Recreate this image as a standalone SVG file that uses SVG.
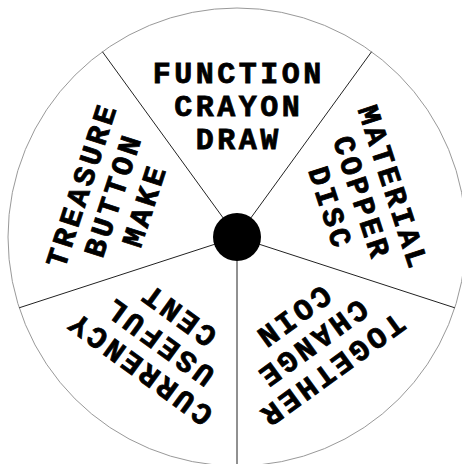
<svg xmlns="http://www.w3.org/2000/svg" width="462" height="464" viewBox="0 0 462 464">
<style>
.lbl{font-family:"Liberation Mono","Courier New",monospace;font-weight:bold;font-size:30px;letter-spacing:3.5px;text-anchor:middle;fill:#000;stroke:#000;stroke-width:0.8px}
.spoke{stroke:#222;stroke-width:1;fill:none}
</style>
<rect width="462" height="464" fill="#fff"/>
<circle cx="237" cy="237" r="229" fill="#fff" stroke="#999" stroke-width="1"/>
<g id="spokes">
<line class="spoke" x1="237" y1="237" x2="237" y2="466"/>
<line class="spoke" x1="237" y1="237" x2="19.2" y2="307.8"/>
<line class="spoke" x1="237" y1="237" x2="102.4" y2="51.7"/>
<line class="spoke" x1="237" y1="237" x2="371.6" y2="51.7"/>
<line class="spoke" x1="237" y1="237" x2="454.8" y2="307.8"/>
</g>
<g id="sector-top">
<text class="lbl" x="238.7" y="83">FUNCTION</text>
<text class="lbl" x="238.7" y="116">CRAYON</text>
<text class="lbl" x="238.7" y="149">DRAW</text>
</g>
<g id="sector-right" transform="rotate(72 237 237)">
<text class="lbl" x="238.7" y="83">MATERIAL</text>
<text class="lbl" x="238.7" y="116">COPPER</text>
<text class="lbl" x="238.7" y="149">DISC</text>
</g>
<g id="sector-bottom-right" transform="rotate(144 237 237)">
<text class="lbl" x="238.7" y="83">TOGETHER</text>
<text class="lbl" x="238.7" y="116">CHANGE</text>
<text class="lbl" x="238.7" y="149">COIN</text>
</g>
<g id="sector-bottom-left" transform="rotate(216 237 237)">
<text class="lbl" x="238.7" y="83">CURRENCY</text>
<text class="lbl" x="238.7" y="116">USEFUL</text>
<text class="lbl" x="238.7" y="149">CENT</text>
</g>
<g id="sector-left" transform="rotate(288 237 237)">
<text class="lbl" x="238.7" y="83">TREASURE</text>
<text class="lbl" x="238.7" y="116">BUTTON</text>
<text class="lbl" x="238.7" y="149">MAKE</text>
</g>
<g id="hub">
<circle cx="237" cy="237" r="24" fill="#000"/>
</g>
</svg>
